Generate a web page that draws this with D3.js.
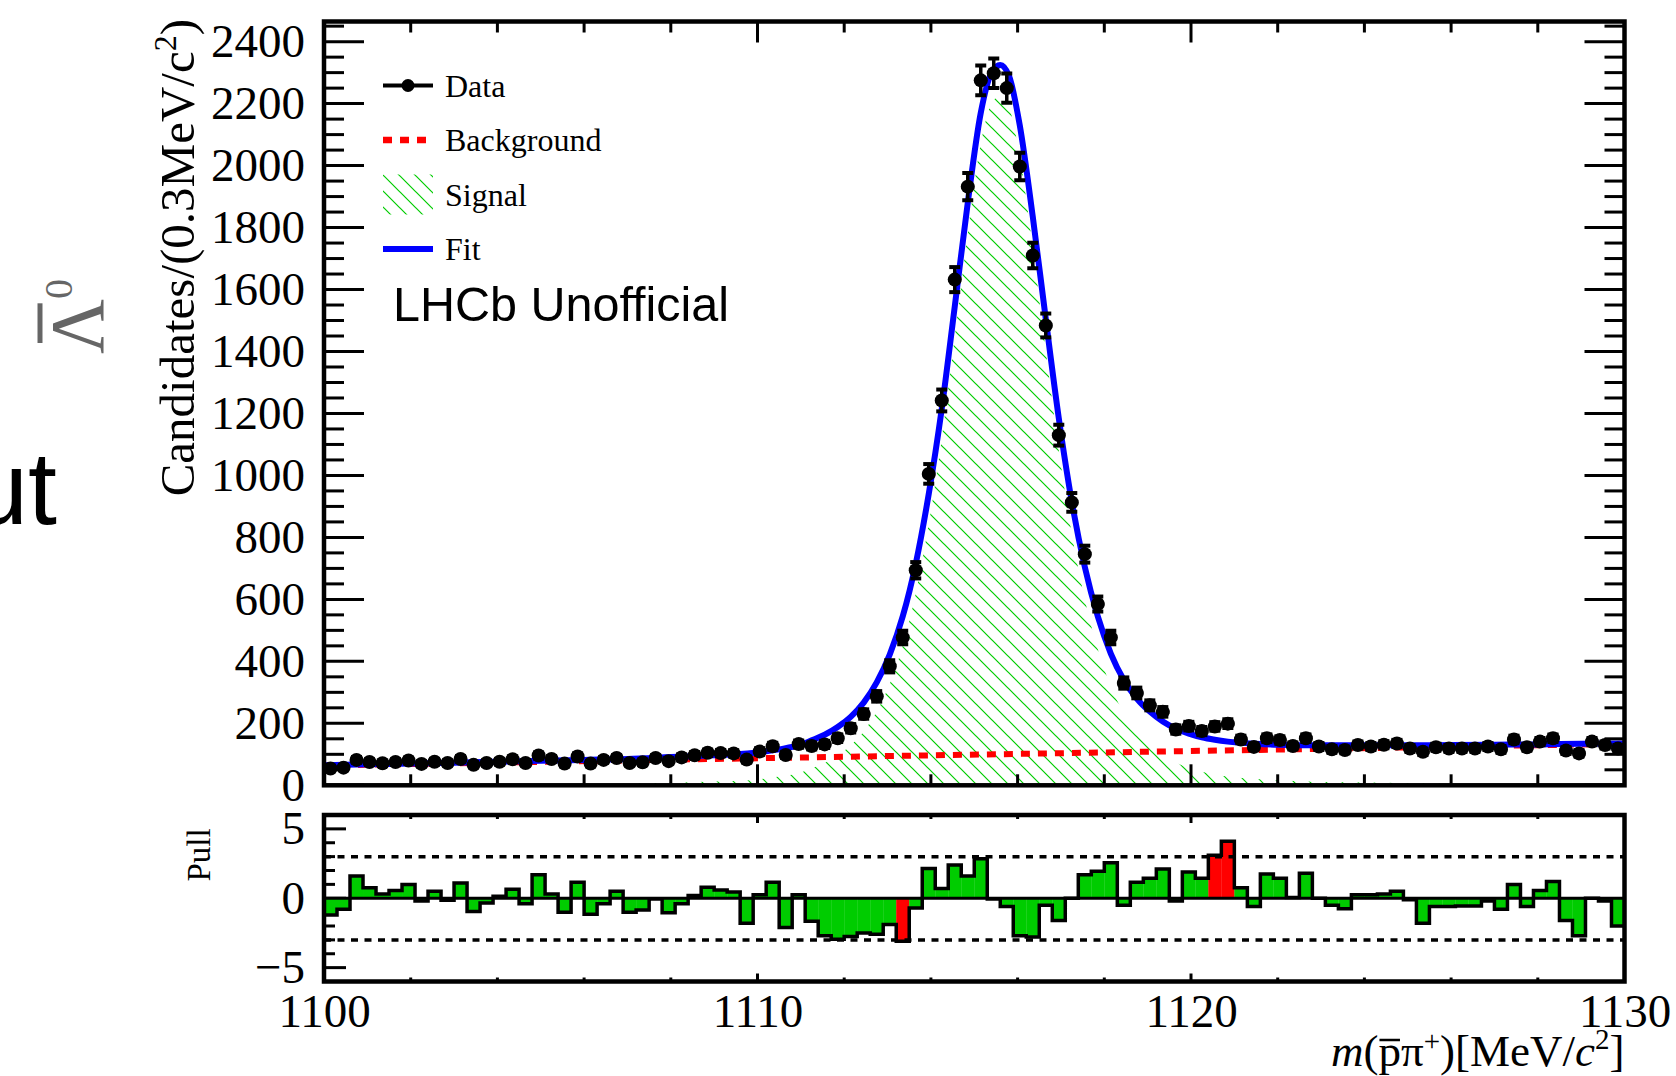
<!DOCTYPE html>
<html><head><meta charset="utf-8">
<script src="https://cdn.jsdelivr.net/npm/d3@7"></script>
<style>
html,body{margin:0;padding:0;background:#fff;overflow:hidden;}
svg{display:block;}
</style></head><body>
<svg id="chart" width="1676" height="1076"></svg>
<script>
// ---------------- data ----------------
const massRange = [1100, 1130];
const binWidth = 0.3;
const counts = [54,57,82,75,71,75,80,69,76,72,85,66,72,76,84,72,96,85,70,93,
  70,82,88,72,74,88,78,90,97,105,104,103,83,109,126,98,133,127,132,152,
  184,230,287,384,477,694,1005,1242,1632,1932,2275,2298,2250,1997,1710,1484,1130,913,746,585,
  477,330,298,258,237,180,191,175,190,199,148,124,152,146,127,152,125,116,114,130,
  125,131,135,119,108,123,119,119,119,125,116,148,123,141,152,112,103,141,130,119];
const pulls = [-1.2,-0.8,1.6,0.75,0.3,0.55,1.0,-0.2,0.5,-0.15,1.1,-0.95,-0.35,0.15,0.65,-0.4,1.7,0.3,-1.0,1.15,
  -1.15,-0.4,0.5,-1.0,-0.85,-0.05,-1.05,-0.4,0.2,0.8,0.6,0.45,-1.8,0.25,1.15,-2.1,0.25,-1.65,-2.7,-2.95,
  -2.75,-2.5,-2.6,-1.9,-3.1,-0.7,2.15,0.7,2.4,1.6,2.85,-0.05,-0.6,-2.7,-2.8,-0.5,-1.6,0.0,1.7,1.95,
  2.55,-0.5,1.15,1.45,2.1,-0.2,1.9,1.45,3.1,4.1,0.75,-0.6,1.75,1.45,0.05,1.8,0.0,-0.5,-0.75,0.25,
  0.25,0.3,0.5,-0.1,-1.8,-0.6,-0.6,-0.55,-0.55,-0.2,-0.8,1.0,-0.6,0.55,1.2,-1.6,-2.7,0.0,-0.2,-2.0];
const curveMass = [1100,1101,1102,1103,1104,1105,1106,1107,1108,1108.5,1109,1109.5,1110,1110.5,1111,1111.25,
  1111.55,1111.85,1112.15,1112.45,1112.75,1113.05,1113.35,1113.65,1113.95,1114.25,1114.55,1114.85,1115.15,1115.4,
  1115.6,1115.8,1116.05,1116.35,1116.65,1116.95,1117.25,1117.55,1117.85,1118.15,1118.45,1118.75,1119.05,1119.35,
  1119.65,1119.95,1120.25,1120.55,1120.85,1121.5,1122,1123,1124,1125,1126,1127,1128,1129,1130];
const fitValues = [65,68,70,73,76,79,82,85,91,94,97,100,106,116,131,145,
  163,188,221,267,332,422,545,715,940,1215,1545,1880,2170,2300,
  2325,2290,2130,1835,1505,1185,915,705,545,425,340,280,238,206,
  183,167,155,147,141,134,131,129,129,129,130,131,132,134,135];
const signalValues = [1,2,2,2,3,3,4,5,8,10,12,14,19,28,41,55,
  72,96,129,174,238,327,450,619,843,1118,1447,1781,2071,2200,
  2225,2189,2029,1733,1402,1081,811,600,439,319,233,172,130,97,
  73,56,44,35,28,20,16,11,9,7,5,4,3,2,1];
const bkgMass = [1100, 1130];
const bkgValues = [64, 134];
const yTicksMain = [0,200,400,600,800,1000,1200,1400,1600,1800,2000,2200,2400];
const xTickLabels = [1100,1110,1120,1130];
const pullTickLabels = [-5,0,5];
const pullBand = [-3, 3];
const legendLabels = ["Data","Background","Signal","Fit"];

// ---------------- layout ----------------
const L = 324, R = 1624.5, T = 21.5, B = 785.3, PT = 815, PB = 981.5;
const serif = "'Liberation Serif','Times New Roman',serif";
const sans = "'Liberation Sans',Arial,Helvetica,sans-serif";
const svg = d3.select("#chart");

const x = d3.scaleLinear().domain(massRange).range([L, R]);
const y = d3.scaleLinear().domain([0, 2465]).range([B, T]);
const yp = d3.scaleLinear().domain([-6, 6]).range([PB, PT]);

const nb = counts.length;
const centers = d3.range(nb).map(i => massRange[0] + (i + 0.5) * binWidth);
const edges = d3.range(nb + 1).map(i => massRange[0] + i * binWidth);

// defs: hatch + clip
const defs = svg.append("defs");
const P = 16;
const pat = defs.append("pattern").attr("id","hatch").attr("patternUnits","userSpaceOnUse")
  .attr("width",P).attr("height",P);
pat.append("path").attr("d",`M-2,-2 L${P+2},${P+2} M${-P/2-2},${P/2-2} L${P/2+2},${1.5*P+2} M${P/2-2},${-P/2-2} L${1.5*P+2},${P/2+2}`)
  .attr("stroke","#00cc00").attr("stroke-width",1.2);
defs.append("clipPath").attr("id","clipMain").append("rect")
  .attr("x",L).attr("y",T).attr("width",R-L).attr("height",B-T);
defs.append("clipPath").attr("id","clipPull").append("rect")
  .attr("x",L).attr("y",PT).attr("width",R-L).attr("height",PB-PT);

// ---------------- side texts ----------------
svg.append("text").attr("x",57).attr("y",524).attr("text-anchor","end")
  .attr("font-family",sans).attr("font-size",104).attr("fill","#000").text("ut");
const lamG = svg.append("g").attr("transform","translate(103,354) rotate(-90)");
const lam = lamG.append("text").attr("x",0).attr("y",0)
  .attr("font-family",serif).attr("font-size",76).attr("fill","#666");
lam.append("tspan").text("\u039B");
lam.append("tspan").attr("dy",-31).attr("font-size",40).text("0");
{
  const ext = lam.node().getExtentOfChar(0);
  lamG.append("line").attr("x1",ext.x+ext.width*0.2).attr("x2",ext.x+ext.width*0.92)
    .attr("y1",-63).attr("y2",-63).attr("stroke","#666").attr("stroke-width",5);
}

// ---------------- main panel ----------------
const gMain = svg.append("g").attr("clip-path","url(#clipMain)");
const curvePts = curveMass.map((m,i)=>({m, f:fitValues[i], s:signalValues[i]}));
gMain.append("path").datum(curvePts)
  .attr("d", d3.area().x(d=>x(d.m)).y0(y(0)).y1(d=>y(d.s)).curve(d3.curveMonotoneX))
  .attr("fill","url(#hatch)");
gMain.append("path").datum(bkgMass.map((m,i)=>({m, v:bkgValues[i]})))
  .attr("d", d3.line().x(d=>x(d.m)).y(d=>y(d.v)))
  .attr("fill","none").attr("stroke","#ff0000").attr("stroke-width",6).attr("stroke-dasharray","9,8");
gMain.append("path").datum(curvePts)
  .attr("d", d3.line().x(d=>x(d.m)).y(d=>y(d.f)).curve(d3.curveMonotoneX))
  .attr("fill","none").attr("stroke","#0000ff").attr("stroke-width",6);

// data points
const pts = gMain.append("g").selectAll("g").data(counts).join("g");
const hw = (x(massRange[0]+binWidth) - x(massRange[0]))/2;
const cap = 5.5;
pts.append("line").attr("x1",(d,i)=>x(centers[i])-hw).attr("x2",(d,i)=>x(centers[i])+hw)
  .attr("y1",d=>y(d)).attr("y2",d=>y(d)).attr("stroke","#000").attr("stroke-width",4);
pts.append("line").attr("x1",(d,i)=>x(centers[i])).attr("x2",(d,i)=>x(centers[i]))
  .attr("y1",d=>y(d+Math.sqrt(d))).attr("y2",d=>y(d-Math.sqrt(d))).attr("stroke","#000").attr("stroke-width",3.5);
pts.append("line").attr("x1",(d,i)=>x(centers[i])-cap).attr("x2",(d,i)=>x(centers[i])+cap)
  .attr("y1",d=>y(d+Math.sqrt(d))).attr("y2",d=>y(d+Math.sqrt(d))).attr("stroke","#000").attr("stroke-width",4);
pts.append("line").attr("x1",(d,i)=>x(centers[i])-cap).attr("x2",(d,i)=>x(centers[i])+cap)
  .attr("y1",d=>y(d-Math.sqrt(d))).attr("y2",d=>y(d-Math.sqrt(d))).attr("stroke","#000").attr("stroke-width",4);
pts.append("circle").attr("cx",(d,i)=>x(centers[i])).attr("cy",d=>y(d)).attr("r",7).attr("fill","#000");

// ticks
const tk = svg.append("g").attr("stroke","#000").attr("stroke-width",3);
const yMinor = d3.range(0, 2465, 50);
yMinor.forEach(v=>{
  const major = v % 200 === 0;
  const len = major ? 40 : 20;
  tk.append("line").attr("x1",L).attr("x2",L+len).attr("y1",y(v)).attr("y2",y(v));
  tk.append("line").attr("x1",R).attr("x2",R-len).attr("y1",y(v)).attr("y2",y(v));
});
const xMinor = d3.range(massRange[0], massRange[1]+0.01, 2);
xMinor.forEach(m=>{
  const major = (m - massRange[0]) % 10 === 0;
  const len = major ? 21 : 11;
  tk.append("line").attr("x1",x(m)).attr("x2",x(m)).attr("y1",B).attr("y2",B-len);
  tk.append("line").attr("x1",x(m)).attr("x2",x(m)).attr("y1",T).attr("y2",T+len);
  const lp = major ? 8 : 4;
  tk.append("line").attr("x1",x(m)).attr("x2",x(m)).attr("y1",PB).attr("y2",PB-lp);
  tk.append("line").attr("x1",x(m)).attr("x2",x(m)).attr("y1",PT).attr("y2",PT+lp);
});
d3.range(-6, 7, 1).forEach(v=>{
  const len = v % 5 === 0 ? 22 : 11;
  tk.append("line").attr("x1",L).attr("x2",L+len).attr("y1",yp(v)).attr("y2",yp(v));
});

// frame main
svg.append("rect").attr("x",L).attr("y",T).attr("width",R-L).attr("height",B-T)
  .attr("fill","none").attr("stroke","#000").attr("stroke-width",4.5);

// y axis labels
const yAx = svg.append("g").attr("transform",`translate(${L},0)`)
  .call(d3.axisLeft(y).tickValues(yTicksMain).tickSize(0).tickPadding(19).tickFormat(d3.format("d")));
yAx.select(".domain").remove();
yAx.selectAll("text").attr("font-family",serif).attr("font-size",47).attr("fill","#000");

// y title
const yt = svg.append("text").attr("transform","translate(194,19) rotate(-90)")
  .attr("text-anchor","end").attr("font-family",serif).attr("font-size",49).attr("fill","#000");
yt.append("tspan").text("Candidates/(0.3MeV/c");
yt.append("tspan").attr("dy",-18).attr("font-size",32).text("2");
yt.append("tspan").attr("dy",18).text(")");

// legend
const lg = svg.append("g");
const rowY = [85.5, 140, 194.5, 249];
lg.append("line").attr("x1",383).attr("x2",433).attr("y1",rowY[0]).attr("y2",rowY[0]).attr("stroke","#000").attr("stroke-width",4);
lg.append("circle").attr("cx",408).attr("cy",rowY[0]).attr("r",6.5).attr("fill","#000");
lg.append("line").attr("x1",383).attr("x2",426).attr("y1",rowY[1]).attr("y2",rowY[1])
  .attr("stroke","#ff0000").attr("stroke-width",6.5).attr("stroke-dasharray","9,8");
lg.append("rect").attr("x",383).attr("y",rowY[2]-20).attr("width",50).attr("height",40).attr("fill","url(#hatch)");
lg.append("line").attr("x1",383).attr("x2",433).attr("y1",rowY[3]).attr("y2",rowY[3]).attr("stroke","#0000ff").attr("stroke-width",6);
lg.selectAll("text.lab").data(legendLabels).join("text").attr("class","lab")
  .attr("x",445).attr("y",(d,i)=>rowY[i]+11).attr("font-family",serif).attr("font-size",32).attr("fill","#000").text(d=>d);

svg.append("text").attr("x",393).attr("y",321).attr("font-family",sans).attr("font-size",48.5)
  .attr("fill","#000").text("LHCb Unofficial");

// ---------------- pull panel ----------------
const gPull = svg.append("g").attr("clip-path","url(#clipPull)");
gPull.selectAll("rect.bar").data(pulls).join("rect").attr("class","bar")
  .attr("x",(d,i)=>x(edges[i])).attr("width",(d,i)=>x(edges[i+1])-x(edges[i])+0.3)
  .attr("y",d=>Math.min(yp(d),yp(0))).attr("height",d=>Math.abs(yp(d)-yp(0)))
  .attr("fill",d=>Math.abs(d)>3 ? "#ff0000" : "#00cc00");
gPull.append("line").attr("x1",L).attr("x2",R).attr("y1",yp(0)).attr("y2",yp(0))
  .attr("stroke","#000").attr("stroke-width",3);
const stepPts = edges.map((e,i)=>({e, v: pulls[Math.min(i, nb-1)]}));
gPull.append("path").datum(stepPts)
  .attr("d", d3.line().x(d=>x(d.e)).y(d=>yp(d.v)).curve(d3.curveStepAfter))
  .attr("fill","none").attr("stroke","#000").attr("stroke-width",3.5);
pullBand.forEach(v=>{
  gPull.append("line").attr("x1",L).attr("x2",R).attr("y1",yp(v)).attr("y2",yp(v))
    .attr("stroke","#000").attr("stroke-width",3.5).attr("stroke-dasharray","7,6.5");
});
svg.append("rect").attr("x",L).attr("y",PT).attr("width",R-L).attr("height",PB-PT)
  .attr("fill","none").attr("stroke","#000").attr("stroke-width",4.5);

const ypAx = svg.append("g").attr("transform",`translate(${L},0)`)
  .call(d3.axisLeft(yp).tickValues(pullTickLabels).tickSize(0).tickPadding(19).tickFormat(d3.format("d")));
ypAx.select(".domain").remove();
ypAx.selectAll("text").attr("font-family",serif).attr("font-size",47).attr("fill","#000");

svg.append("text").attr("transform","translate(210,855) rotate(-90)").attr("text-anchor","middle")
  .attr("font-family",serif).attr("font-size",33).attr("fill","#000").text("Pull");

const xAx = svg.append("g").attr("transform",`translate(0,${PB})`)
  .call(d3.axisBottom(x).tickValues(xTickLabels).tickSize(0).tickPadding(12).tickFormat(d3.format("d")));
xAx.select(".domain").remove();
xAx.selectAll("text").attr("font-family",serif).attr("font-size",47).attr("fill","#000");

// x title
const XB = 1066;
const xt = svg.append("text").attr("x",R).attr("y",XB).attr("text-anchor","end")
  .attr("font-family",serif).attr("font-size",45).attr("fill","#000");
xt.append("tspan").attr("font-style","italic").text("m");
xt.append("tspan").text("(p\u03C0");
xt.append("tspan").attr("dy",-15).attr("font-size",29).text("+");
xt.append("tspan").attr("dy",15).text(")[MeV/");
xt.append("tspan").attr("font-style","italic").text("c");
xt.append("tspan").attr("dy",-17).attr("font-size",29).text("2");
xt.append("tspan").attr("dy",17).text("]");
{
  const ext = xt.node().getExtentOfChar(2);
  svg.append("line").attr("x1",ext.x+1).attr("x2",ext.x+ext.width-1)
    .attr("y1",XB-26).attr("y2",XB-26).attr("stroke","#000").attr("stroke-width",2.5);
}
</script>
</body></html>
